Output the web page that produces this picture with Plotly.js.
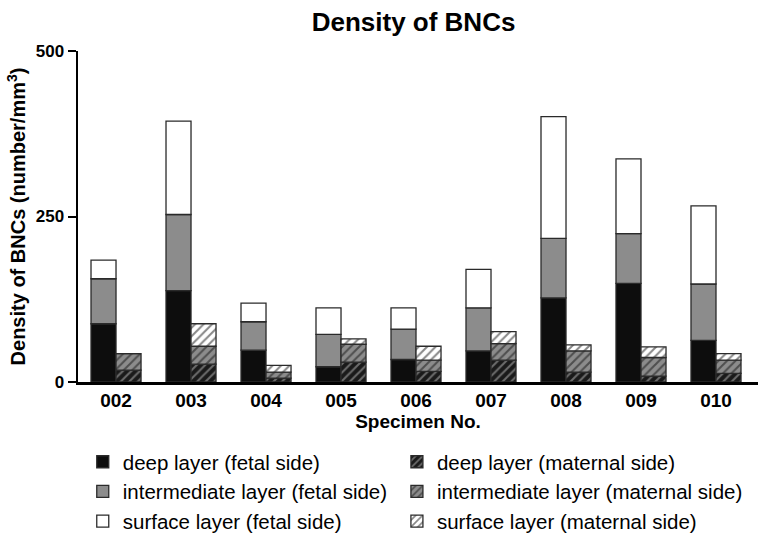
<!DOCTYPE html>
<html>
<head>
<meta charset="utf-8">
<script src="https://cdn.plot.ly/plotly-3.0.1.min.js"></script>
<style>
  html, body { margin: 0; padding: 0; background: #fff; }
  #chart { width: 763px; height: 533px; }
</style>
</head>
<body>
<div id="chart"></div>
<script>
// === DATA ===
const specimens = ['002', '003', '004', '005', '006', '007', '008', '009', '010'];

// fetal side, per layer
const fetalDeep = [88, 138, 48, 23, 34, 47, 127, 149, 63];
const fetalIntermediate = [68, 115, 43, 49, 46, 65, 90, 75, 85];
const fetalSurface = [28, 141, 28, 40, 32, 58, 184, 113, 118];

// maternal side, per layer
const maternalDeep = [18, 27, 6, 30, 16, 33, 15, 9, 13];
const maternalIntermediate = [25, 27, 9, 27, 17, 25, 32, 28, 20];
const maternalSurface = [0, 34, 10, 8, 21, 18, 9, 16, 10];

const yTicks = [0, 250, 500];

// cumulative bases for the stacks
function addArrays(a, b) {
    return a.map((v, i) => v + b[i]);
}
const fetalBase2 = fetalDeep;
const fetalBase3 = addArrays(fetalDeep, fetalIntermediate);
const maternalBase2 = maternalDeep;
const maternalBase3 = addArrays(maternalDeep, maternalIntermediate);

const FONT = 'Liberation Sans, Arial, sans-serif';
const edge = { color: '#2a2a2a', width: 1.3 };

// fetal side -> left legend column, maternal side -> right legend column
function barTrace(name, values, base, group, fill, pattern) {
    const marker = { color: fill, line: edge };
    if (pattern) marker.pattern = pattern;
    return {
        type: 'bar',
        name: name,
        x: specimens,
        y: values,
        base: base,
        offsetgroup: group,
        legend: group === 'fetal' ? 'legend' : 'legend2',
        marker: marker,
        hoverinfo: 'x+y+name'
    };
}

const hatch = (bg, fg) => ({ shape: '/', bgcolor: bg, fgcolor: fg, size: 6, solidity: 0.35, fillmode: 'overlay' });

const traces = [
    barTrace('deep layer (fetal side)', fetalDeep, null, 'fetal', '#0d0d0d'),
    barTrace('intermediate layer (fetal side)', fetalIntermediate, fetalBase2, 'fetal', '#8c8c8c'),
    barTrace('surface layer (fetal side)', fetalSurface, fetalBase3, 'fetal', '#ffffff'),
    barTrace('deep layer (maternal side)', maternalDeep, null, 'maternal', '#111', hatch('#1a1a1a', '#bdbdbd')),
    barTrace('intermediate layer (maternal side)', maternalIntermediate, maternalBase2, 'maternal', '#8c8c8c', hatch('#8c8c8c', '#111')),
    barTrace('surface layer (maternal side)', maternalSurface, maternalBase3, 'maternal', '#ffffff', hatch('#ffffff', '#111'))
];

const legendStyle = {
    orientation: 'v',
    xanchor: 'left',
    y: -0.181,
    yanchor: 'top',
    traceorder: 'normal',
    font: { family: FONT, size: 20.5, color: '#000' },
    itemwidth: 30,
    bgcolor: 'rgba(0,0,0,0)'
};

const layout = {
    width: 763,
    height: 533,
    font: { family: FONT, color: '#000' },
    title: {
        text: '<b>Density of BNCs</b>',
        font: { family: FONT, size: 26, color: '#000' },
        x: 0.542,
        xanchor: 'center',
        y: 0.958,
        yanchor: 'middle'
    },
    barmode: 'group',
    bargap: 0.333,
    bargroupgap: 0,
    margin: { l: 78, r: 5, t: 51, b: 151, autoexpand: false },
    xaxis: {
        type: 'category',
        range: [-0.507, 8.56],
        showline: true,
        linecolor: '#000',
        linewidth: 2.5,
        ticks: '',
        showgrid: false,
        zeroline: false,
        automargin: false,
        ticklabelstandoff: 0,
        tickfont: { family: FONT, size: 19, color: '#000', weight: 'bold' },
        title: {
            text: '<b>Specimen No.</b>',
            font: { family: FONT, size: 19, color: '#000' },
            standoff: 0
        }
    },
    yaxis: {
        range: [0, 500],
        tickvals: yTicks,
        ticktext: yTicks.map(String),
        showline: true,
        linecolor: '#000',
        linewidth: 2.5,
        ticks: 'outside',
        ticklen: 8,
        tickwidth: 2,
        tickcolor: '#000',
        showgrid: false,
        zeroline: false,
        automargin: false,
        tickfont: { family: FONT, size: 17, color: '#000', weight: 'bold' },
        title: {
            text: '<b>Density of BNCs (number/mm<sup>3</sup>)</b>',
            font: { family: FONT, size: 20, color: '#000' },
            standoff: 5
        }
    },
    showlegend: true,
    legend: Object.assign({}, legendStyle, { x: 0.007 }),
    legend2: Object.assign({}, legendStyle, { x: 0.469 }),
    plot_bgcolor: '#fff',
    paper_bgcolor: '#fff'
};

Plotly.newPlot('chart', traces, layout, { displayModeBar: false, staticPlot: true });
</script>
</body>
</html>
